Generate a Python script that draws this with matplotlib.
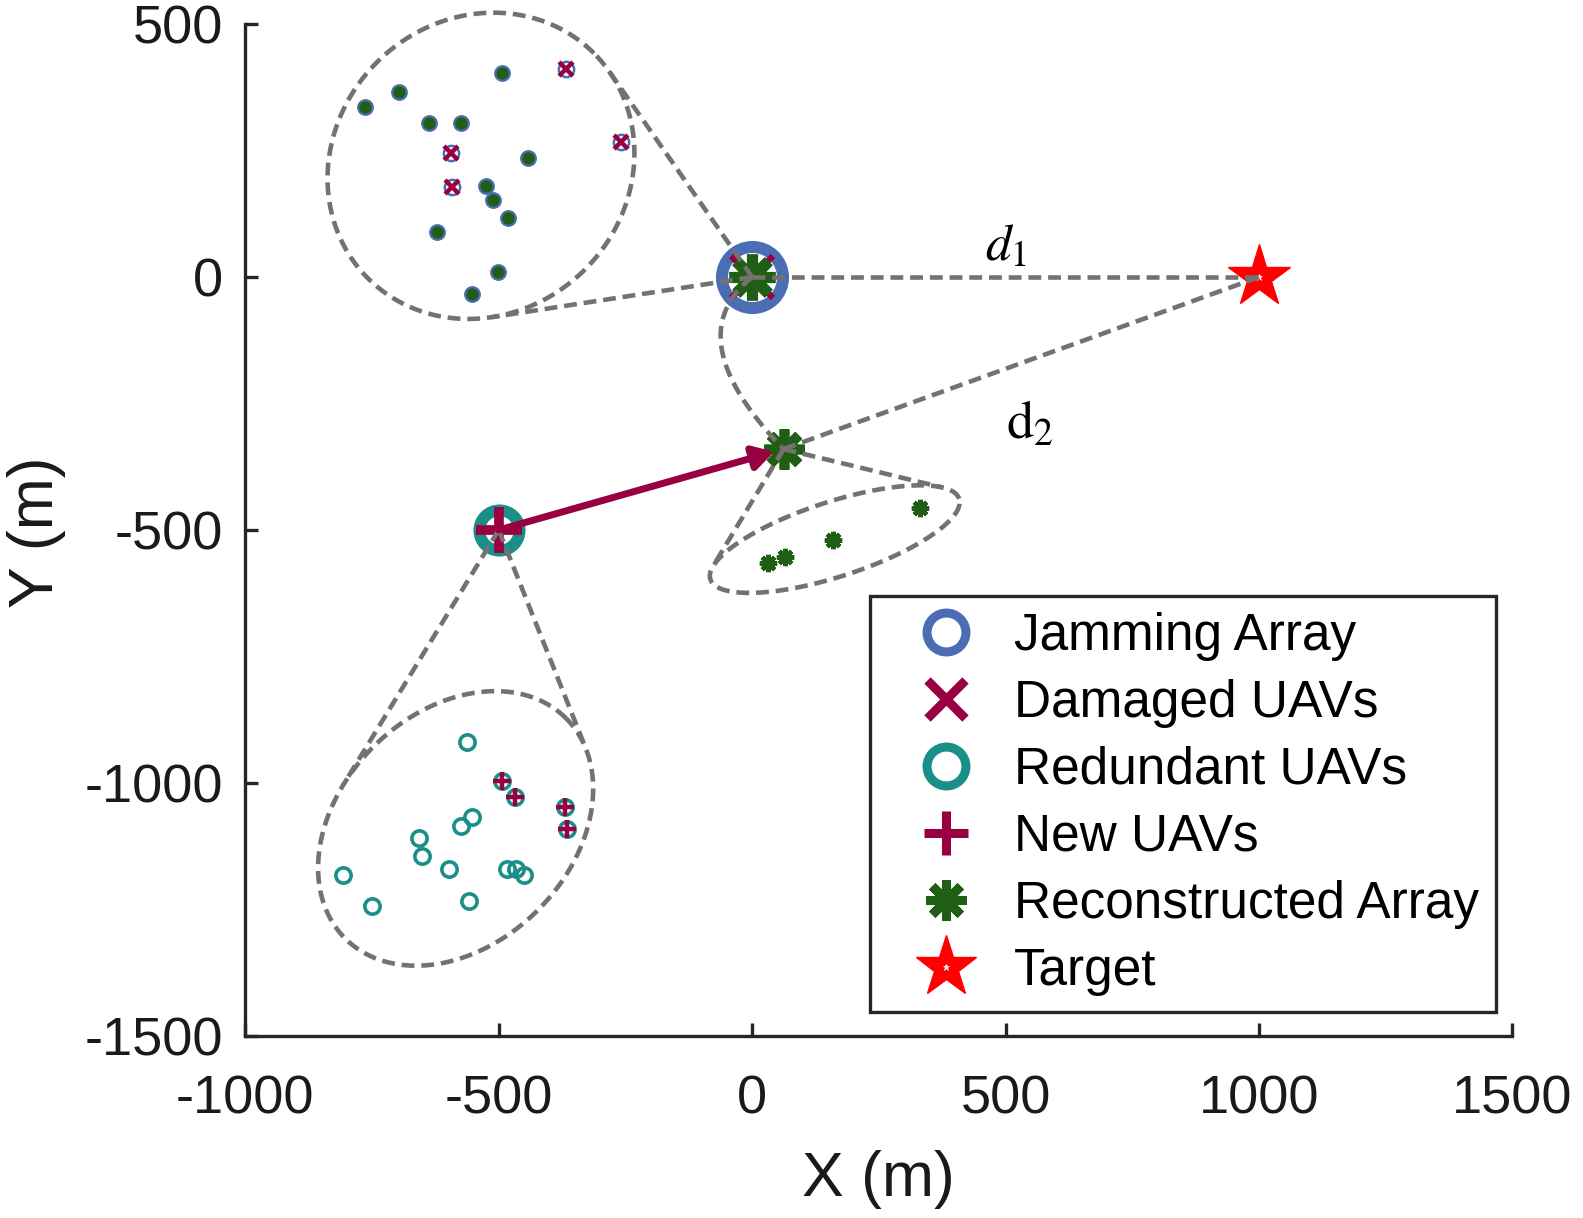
import numpy as np
import matplotlib
matplotlib.use('Agg')
import matplotlib.pyplot as plt
from matplotlib.lines import Line2D
from matplotlib.patches import FancyArrowPatch

plt.rcParams['font.family'] = ['Liberation Sans', 'DejaVu Sans']
plt.rcParams['mathtext.fontset'] = 'stix'
plt.rcParams['axes.unicode_minus'] = False

# ---------------- data ----------------
jam_center = (0, 0)
target = (1000, 0)
recon_center = (62, -340)
redundant_center = (-500, -500)

# zoomed view of jamming array (intact UAVs)
jam_x = [-493, -696, -764, -637, -574, -443, -525, -511, -482, -622, -501, -553]
jam_y = [404, 365, 336, 305, 304, 236, 181, 152, 117, 89, 11, -33]
# damaged UAVs
damaged_x = [-368, -259, -594, -592]
damaged_y = [411, 268, 245, 179]

# zoomed view of redundant UAVs
redundant_x = [-562, -553, -575, -657, -652, -598, -807, -484, -466, -450, -751, -559]
redundant_y = [-920, -1067, -1085, -1108, -1144, -1171, -1183, -1171, -1171, -1183, -1243, -1233]
# new UAVs (selected from redundant ones)
new_x = [-494, -468, -370, -366]
new_y = [-996, -1028, -1048, -1092]

# zoomed view of reconstructed array
recon_x = [331, 160, 65, 31]
recon_y = [-457, -520, -554, -566]

# inset outlines: (center x, center y, semi-major, semi-minor, angle deg)
jam_ellipse = (-535, 220, 315, 290, 45)
redundant_ellipse = (-585, -1090, 308, 229, 45)
recon_ellipse = (163, -518, 258, 74, 18)
curve_ctrl = (-150, -120)   # control point of the jamming->reconstructed connector

x_ticks = [-1000, -500, 0, 500, 1000, 1500]
y_ticks = [-1500, -1000, -500, 0, 500]

labels = ['Jamming Array', 'Damaged UAVs', 'Redundant UAVs', 'New UAVs',
          'Reconstructed Array', 'Target']

# ---------------- style ----------------
BLUE = '#4a6db4'
RED = '#990042'
TEAL = '#1a8f89'
GREEN = '#1f5e14'
GRAY = '#767171'
STAR = '#ff0000'
AST = (8, 2, 0)
DASH = dict(color=GRAY, lw=3.3, ls=(0, (2.8, 1.5)), zorder=6, solid_capstyle='butt',
            dash_capstyle='butt', clip_on=False)

fig = plt.figure(figsize=(15.83, 12.18), dpi=100)
ax = fig.add_axes([245.3 / 1583, 1 - 1035.8 / 1218, (1512.4 - 245.3) / 1583,
                   (1035.8 - 24.2) / 1218])
ax.set_xlim(-1000, 1500)
ax.set_ylim(-1500, 500)


def ellipse_pts(e, n=600):
    cx, cy, a, b, ang = e
    t = np.linspace(0, 2 * np.pi, n)
    th = np.deg2rad(ang)
    x = a * np.cos(t)
    y = b * np.sin(t)
    return cx + x * np.cos(th) - y * np.sin(th), cy + x * np.sin(th) + y * np.cos(th)


def tangent_pts(apex, e):
    ex, ey = ellipse_pts(e, 2000)
    base = np.arctan2(e[1] - apex[1], e[0] - apex[0])
    ang = np.arctan2(ey - apex[1], ex - apex[0]) - base
    ang = (ang + np.pi) % (2 * np.pi) - np.pi
    i1, i2 = np.argmax(ang), np.argmin(ang)
    return [(ex[i1], ey[i1]), (ex[i2], ey[i2])]


# ---------------- insets ----------------
for apex, e in [(jam_center, jam_ellipse), (redundant_center, redundant_ellipse),
                (recon_center, recon_ellipse)]:
    ex, ey = ellipse_pts(e)
    ax.plot(ex, ey, **DASH)
    for p in tangent_pts(apex, e):
        ax.plot([apex[0], p[0]], [apex[1], p[1]], **DASH)

# distance lines
ax.plot([jam_center[0], target[0]], [jam_center[1], target[1]], **DASH)
ax.plot([recon_center[0], target[0]], [recon_center[1], target[1]], **DASH)

# curved connector jamming array -> reconstructed array
t = np.linspace(0, 1, 100)
cx = (1 - t) ** 2 * jam_center[0] + 2 * t * (1 - t) * curve_ctrl[0] + t ** 2 * recon_center[0]
cy = (1 - t) ** 2 * jam_center[1] + 2 * t * (1 - t) * curve_ctrl[1] + t ** 2 * recon_center[1]
ax.plot(cx, cy, **DASH)

# jamming-array inset points
ax.plot(jam_x, jam_y, ls='none', marker='o', ms=10.5, mfc=GREEN, mec=BLUE, mew=1.6, zorder=3)
ax.plot(damaged_x, damaged_y, ls='none', marker='o', ms=11, mfc='white', mec=BLUE, mew=1.8, zorder=3)
ax.plot(damaged_x, damaged_y, ls='none', marker='x', ms=10, mec=RED, mew=3.2, zorder=4)

# redundant inset points
ax.plot(redundant_x + new_x, redundant_y + new_y, ls='none', marker='o', ms=11, mfc='none',
        mec=TEAL, mew=2.6, zorder=3)
ax.plot(new_x, new_y, ls='none', marker='+', ms=13, mec=RED, mew=3.2, zorder=4)

# reconstructed inset points
ax.plot(recon_x, recon_y, ls='none', marker=AST, ms=12.5, mec=GREEN, mew=3.2, zorder=3)

# main markers
ax.plot(*jam_center, marker='o', ms=44, mfc='none', mec=BLUE, mew=8.6, zorder=3)
ax.plot(*jam_center, marker='x', ms=30, mec=RED, mew=4.5, zorder=4)
ax.plot(*jam_center, marker=AST, ms=33, mec=GREEN, mew=8, zorder=5)
ax.plot(*redundant_center, marker='o', ms=29, mfc='none', mec=TEAL, mew=8.5, zorder=3)
ax.plot(*redundant_center, marker='+', ms=33, mec=RED, mew=7, zorder=4)
ax.plot(*recon_center, marker=AST, ms=29, mec=GREEN, mew=7, zorder=4)
ax.plot(*target, marker='*', ms=47, mfc=STAR, mec=STAR, mew=1, zorder=4)
ax.plot(*target, marker='*', ms=5, mfc='white', mec='white', mew=0.5, zorder=5)

# arrow redundant -> reconstructed
arr = FancyArrowPatch(redundant_center, recon_center, arrowstyle='-|>,head_length=0.55,head_width=0.32',
                      mutation_scale=22, lw=5, color=RED, shrinkA=0, shrinkB=7, zorder=7)
ax.add_patch(arr)

# distance labels
ax.text(500, 60, r'$d_1$', fontsize=37, ha='center', va='center', zorder=8)
ax.text(548, -292, r'$\mathrm{d}_2$', fontsize=39, ha='center', va='center', zorder=8)

# ---------------- axes styling ----------------
for s in ['top', 'right']:
    ax.spines[s].set_visible(False)
for s in ['left', 'bottom']:
    ax.spines[s].set_linewidth(2.4)
    ax.spines[s].set_color('#262626')
ax.set_xticks(x_ticks)
ax.set_yticks(y_ticks)
ax.set_xticklabels([str(v) for v in x_ticks])
ax.set_yticklabels([str(v) for v in y_ticks])
ax.tick_params(direction='in', length=9.5, width=2.4, color='#262626', labelsize=39,
               labelcolor='#1a1a1a')
ax.tick_params(axis='x', pad=28)
ax.tick_params(axis='y', pad=16)
ax.set_xlabel('X (m)', fontsize=45, color='#1a1a1a')
ax.set_ylabel('Y (m)', fontsize=45, color='#1a1a1a')
ax.xaxis.label.set_va('center')
ax.yaxis.label.set_va('center')
ax.xaxis.set_label_coords(0.5, -0.1416)
ax.yaxis.set_label_coords(-0.165, 0.498)

# ---------------- legend ----------------
handles = [
    Line2D([], [], ls='none', marker='o', ms=28, mfc='none', mec=BLUE, mew=6.5),
    Line2D([], [], ls='none', marker='x', ms=27, mec=RED, mew=6.5),
    Line2D([], [], ls='none', marker='o', ms=28, mfc='none', mec=TEAL, mew=6.5),
    Line2D([], [], ls='none', marker='+', ms=32, mec=RED, mew=6.5),
    Line2D([], [], ls='none', marker=AST, ms=29, mec=GREEN, mew=6.5),
    (Line2D([], [], ls='none', marker='*', ms=46, mfc=STAR, mec=STAR, mew=1),
     Line2D([], [], ls='none', marker='*', ms=5, mfc='white', mec='white', mew=0.5)),
]
leg = ax.legend(handles, labels, loc='upper left', bbox_to_anchor=(0.4933, 0.4352),
                borderaxespad=0, fontsize=37, frameon=True, fancybox=False,
                edgecolor='#262626', framealpha=1, borderpad=0.32, handlelength=2.3,
                handletextpad=0.18, labelspacing=0.35)
leg.get_frame().set_linewidth(2.4)
leg.set_zorder(10)

fig.savefig('out.png', dpi=100)
